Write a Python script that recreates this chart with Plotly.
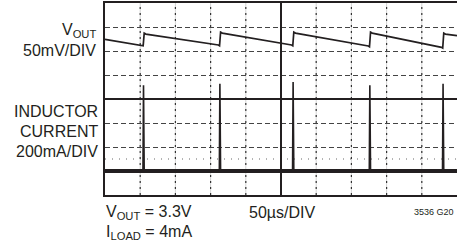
import plotly.graph_objects as go

# ---- data (time in µs relative to trigger, Vout ripple in mV, inductor current in mA)
switch_times = [-195.5, -87.0, 17.0, 126.0, 230.0]
vout_top = [12.2, 14.3, 14.3, 14.3, 12.2]
vout_bottom = [-12.5, -12.5, -12.5, -14.6, -17.3]
vout_start = -0.6
vout_end = 7.1
il_peak = [714, 728, 742, 714, 728]
time_divs = [-200, -150, -100, -50, 50, 100, 150, 200]  # 50µs/DIV graticule

# Vout trace points
vout_t = [-250.0]
vout_v = [vout_start]
for ts, top, bot in zip(switch_times, vout_top, vout_bottom):
    vout_t += [ts - 2.0, ts - 0.3, ts + 1.2, ts + 3.5]
    vout_v += [bot, bot - 1.5, top, top - 2.0]
vout_t.append(250.0)
vout_v.append(vout_end)

# inductor current points
il_t = [-250.0]
il_v = [0.0]
for ts, pk in zip(switch_times, il_peak):
    il_t += [ts - 0.6, ts + 0.2, ts + 1.2]
    il_v += [0.0, pk, 0.0]
il_t.append(250.0)
il_v.append(0.0)

FONT = "Liberation Sans, Arial, sans-serif"
INK = "#231f20"

fig = go.Figure()
# invisible trace so the base (division) axes are bound to data
fig.add_trace(go.Scatter(x=[-250, 250], y=[-4, 4], mode="markers",
                         marker=dict(opacity=0), hoverinfo="skip"))
fig.add_trace(go.Scatter(x=[il_t[0], il_t[-1]], y=[0, 0], mode="lines",
                         line=dict(color=INK, width=4), yaxis="y3", hoverinfo="skip"))
fig.add_trace(go.Scatter(x=il_t, y=il_v, mode="lines",
                         line=dict(color=INK, width=1.6), yaxis="y3"))
fig.add_trace(go.Scatter(x=vout_t, y=vout_v, mode="lines",
                         line=dict(color=INK, width=1.7), yaxis="y2"))

L, T, B = 105, 3, 195
W, H = 457, 244
PW, PH = W - L, B - T


def px(x):
    return (x - L) / PW


def py(y):
    return (B - y) / PH


fig.update_layout(
    width=W, height=H,
    template="none",
    margin=dict(l=L, r=0, t=T, b=H - B, pad=0),
    paper_bgcolor="white", plot_bgcolor="rgba(0,0,0,0)",
    showlegend=False,
    font=dict(family=FONT, color=INK, size=16),
    xaxis=dict(range=[-250, 250], tickmode="linear", dtick=50, tick0=0,
               showticklabels=False, ticks="", showgrid=False,
               zeroline=True, zerolinecolor=INK, zerolinewidth=1.5,
               showline=True, linecolor=INK, linewidth=1.5, mirror=True, fixedrange=True),
    yaxis=dict(range=[-4, 4], tickmode="linear", dtick=1, tick0=0,
               showticklabels=False, ticks="",
               showgrid=True, gridcolor="#444", gridwidth=1, griddash="5px,3px",
               zeroline=True, zerolinecolor=INK, zerolinewidth=1.5,
               showline=True, linecolor=INK, linewidth=1.5, mirror=True, fixedrange=True),
    yaxis2=dict(range=[-325, 75], overlaying="y", visible=False, fixedrange=True),
    yaxis3=dict(range=[-200, 1400], overlaying="y", visible=False, fixedrange=True),
)

# vertical graticule lines: faint solid base plus dotted overlay
for tdiv in time_divs:
    fig.add_shape(type="line", xref="x", yref="y", x0=tdiv, x1=tdiv, y0=-4, y1=4,
                  line=dict(color="#d4d4d4", width=1), layer="below")
    fig.add_shape(type="line", xref="x", yref="y", x0=tdiv, x1=tdiv, y0=-4, y1=4,
                  line=dict(color="#333", width=1.2, dash="2px,4px"), layer="below")

fig.add_shape(type="line", xref="paper", yref="y", x0=0, x1=1, y0=-2.5, y1=-2.5,
              line=dict(color="#666", width=1, dash="1px,6px"), layer="below")


def label(text, x, y, anchor, size=16):
    fig.add_annotation(text=text, xref="paper", yref="paper", x=px(x), y=py(y),
                       xanchor=anchor, yanchor="middle", showarrow=False,
                       font=dict(family=FONT, size=size, color=INK))


label("V<sub>OUT</sub>", 98, 30.5, "right")
label("50mV/DIV", 98, 50.5, "right")
label("INDUCTOR", 100, 111.5, "right")
label("CURRENT", 100, 131.5, "right")
label("200mA/DIV", 100, 151.5, "right")
label("V<sub>OUT</sub> = 3.3V", 104, 212, "left")
label("I<sub>LOAD</sub> = 4mA", 104, 232, "left")
label("50µs/DIV", 247, 212, "left")
label("3536 G20", 456, 212, "right", size=9)

fig.write_html("out.html", config={"displayModeBar": False},
               post_script="document.body.style.margin='0';")
